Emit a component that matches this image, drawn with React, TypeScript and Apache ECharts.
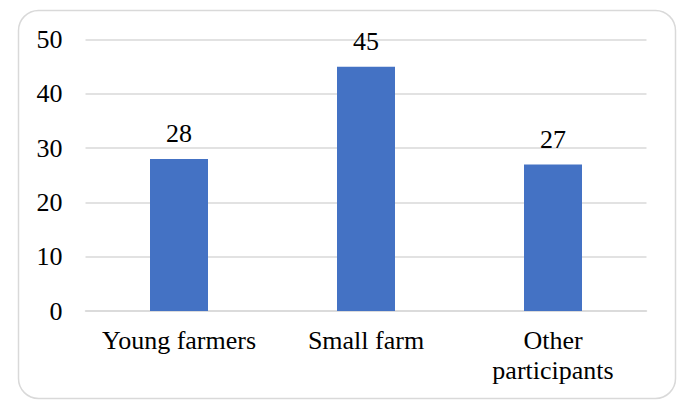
import React, { useEffect, useRef } from "react";
import * as echarts from "echarts";

const categories = ["Young farmers", "Small farm", "Other participants"];
const values = [28, 45, 27];
const yTicks = [0, 10, 20, 30, 40, 50];

const FONT = "Liberation Serif";

export default function App() {
  const ref = useRef<HTMLDivElement>(null);
  useEffect(() => {
    document.body.style.margin = "0";
    const chart = echarts.init(ref.current!, undefined, { renderer: "svg" });
    chart.setOption({
      animation: false,
      backgroundColor: "#ffffff",
      textStyle: { fontFamily: FONT },
      graphic: [
        {
          type: "rect",
          shape: { x: 18.5, y: 10.5, width: 657, height: 388, r: 20 },
          style: { fill: "none", stroke: "#d9d9d9", lineWidth: 1.5 },
          silent: true,
          z: -1,
        },
      ],
      grid: { left: 85.5, right: 34.5, top: 39.5, bottom: 90 },
      xAxis: {
        type: "category",
        data: categories,
        axisLine: { show: true, lineStyle: { color: "#d9d9d9", width: 1.5 } },
        axisTick: { show: false },
        axisLabel: {
          margin: 14,
          fontFamily: FONT,
          fontSize: 26,
          lineHeight: 30,
          color: "#000000",
          interval: 0,
          formatter: (v: string) => (v.length > 15 ? v.replace(" ", "\n") : v),
        },
      },
      yAxis: {
        type: "value",
        min: yTicks[0],
        max: yTicks[yTicks.length - 1],
        interval: 10,
        axisLine: { show: false },
        axisTick: { show: false },
        splitLine: { lineStyle: { color: "#d9d9d9", width: 1.5 } },
        axisLabel: {
          margin: 23,
          fontFamily: FONT,
          fontSize: 26,
          color: "#000000",
        },
      },
      series: [
        {
          type: "bar",
          data: values,
          barWidth: 58,
          itemStyle: { color: "#4472C4" },
          label: {
            show: true,
            position: "top",
            distance: 12,
            fontFamily: FONT,
            fontSize: 26,
            color: "#000000",
          },
        },
      ],
    });
    return () => chart.dispose();
  }, []);
  return (
    <div
      ref={ref}
      style={{ position: "absolute", left: 0, top: 0, width: 681, height: 401 }}
    />
  );
}
